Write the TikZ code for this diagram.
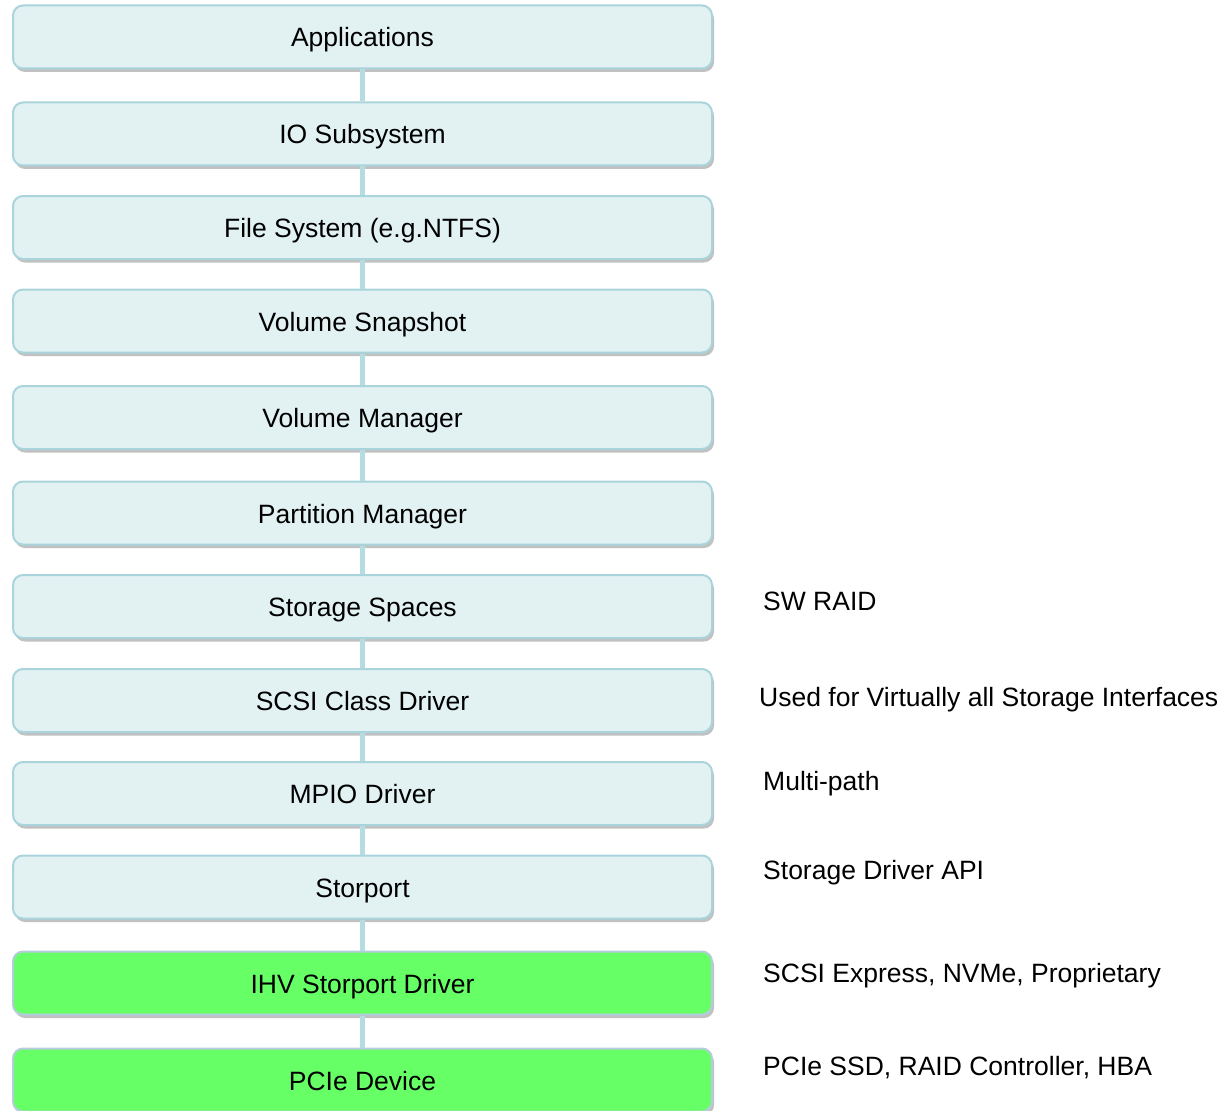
\documentclass[tikz,border=0pt]{standalone}
\usepackage{fontspec}
\setmainfont{Liberation Sans}
\usepackage{tikz}
\usetikzlibrary{
  shadows
}
\definecolor{layerfill}{HTML}{E2F2F3}
\definecolor{layerline}{HTML}{A9D4DB}
\definecolor{ihvfill}{HTML}{66FF66}
\definecolor{ihvline}{HTML}{B4CCDC}
\definecolor{linkline}{HTML}{B4DCE1}
\tikzset{
  layer/.style={draw=layerline,fill=layerfill,line width=2pt,rounded corners=10pt,
    minimum width=699pt,minimum height=63pt,inner sep=0pt,
    text height=20pt,text depth=0pt,
    drop shadow={shadow xshift=2pt,shadow yshift=-3.5pt,opacity=.35,fill=black!70},
    font=\fontsize{26.5}{31}\selectfont},
  ihvlayer/.style={layer,draw=ihvline,fill=ihvfill},
  note/.style={anchor=base west,inner sep=0pt,font=\fontsize{26.5}{31}\selectfont},
  link/.style={draw=linkline,line width=5.5pt}
}

\begin{document}
\begin{tikzpicture}[x=1pt,y=-1pt]
\useasboundingbox (0,0) rectangle (1222,1110);
% layer stack
\node[layer] (app)      at (362.5,37)   {Applications};
\node[layer] (io)       at (362.5,134)  {IO Subsystem};
\node[layer] (fs)       at (362.5,227.5) {File System (e.g.NTFS)};
\node[layer] (snap)     at (362.5,321)  {Volume Snapshot};
\node[layer] (volmgr)   at (362.5,417.5) {Volume Manager};
\node[layer] (partmgr)  at (362.5,513)  {Partition Manager};
\node[layer] (spaces)   at (362.5,606.5) {Storage Spaces};
\node[layer] (scsi)     at (362.5,700.5) {SCSI Class Driver};
\node[layer] (mpio)     at (362.5,793.5) {MPIO Driver};
\node[layer] (storport) at (362.5,887)  {Storport};
\node[ihvlayer] (ihv)   at (362.5,983)  {IHV Storport Driver};
\node[ihvlayer] (pcie)  at (362.5,1080) {PCIe Device};
% links between layers
\foreach \a/\b in {app/io,io/fs,fs/snap,snap/volmgr,volmgr/partmgr,partmgr/spaces,
  spaces/scsi,scsi/mpio,mpio/storport,storport/ihv,ihv/pcie}
  \draw[link] (\a.south) -- (\b.north);
% notes on the right
\node[note] (raidnote)  at (763,610)   {SW RAID};
\node[note] (scsinote)  at (759,706.5) {Used for Virtually all Storage Interfaces};
\node[note] (mpionote)  at (763,790)   {Multi-path};
\node[note] (apinote)   at (763,879)   {Storage Driver API};
\node[note] (ihvnote)   at (763,982)   {SCSI Express, NVMe, Proprietary};
\node[note] (pcienote)  at (763,1075)  {PCIe SSD, RAID Controller, HBA};
\end{tikzpicture}
\end{document}
